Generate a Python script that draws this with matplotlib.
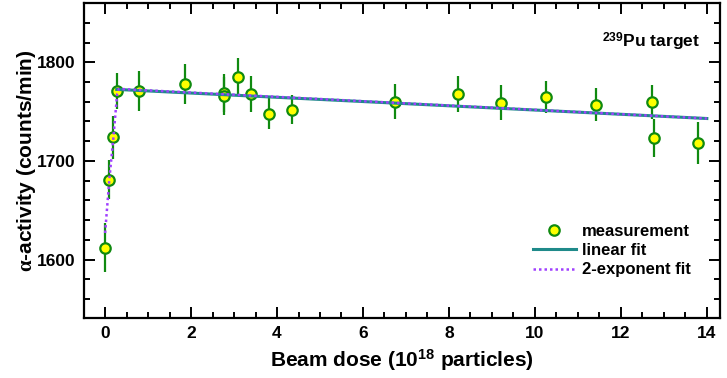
import matplotlib
matplotlib.use("Agg")
import matplotlib.pyplot as plt
from matplotlib.ticker import MultipleLocator

plt.rcParams['font.family'] = ['Liberation Sans', 'DejaVu Sans']
plt.rcParams['font.weight'] = 'bold'
plt.rcParams['axes.labelweight'] = 'bold'
plt.rcParams['mathtext.fontset'] = 'custom'
plt.rcParams['mathtext.rm'] = 'Liberation Sans'
plt.rcParams['mathtext.bf'] = 'Liberation Sans:bold'
plt.rcParams['mathtext.it'] = 'Liberation Serif'

# alpha-activity measurements vs beam dose
dose = [0.0, 0.10, 0.19, 0.28, 0.80, 1.86, 2.77, 2.77, 3.09, 3.40, 3.82, 4.35,
        6.75, 8.20, 9.22, 10.26, 11.43, 12.72, 12.76, 13.79]
activity = [1612, 1681, 1724, 1771, 1771, 1778, 1769, 1766, 1785, 1768, 1748, 1752,
            1760, 1768, 1759, 1765, 1757, 1760, 1723, 1718]
activity_err = [25, 20, 22, 18, 20, 20, 19, 19, 19, 18, 16, 15,
                18, 18, 18, 16, 17, 17, 19, 21]

# fitted curves
lin_x = [0.27, 14.0]
lin_y = [1772.5, 1743]
exp_x = [0.0, 0.10, 0.19, 0.28, 0.32, 14.0]
exp_y = [1627, 1682, 1722, 1768, 1773, 1743]

fig = plt.figure(figsize=(7.27, 3.78), dpi=100)
ax = fig.add_axes([0.115, 0.159, 0.875, 0.833])

ax.errorbar(dose, activity, yerr=activity_err, fmt='none', ecolor='#108a10',
            elinewidth=1.6, capsize=0, zorder=2)
ax.plot(dose, activity, 'o', ms=7.5, mfc='#ffff00', mec='#108a10', mew=1.6,
        ls='none', zorder=3, label='measurement')
ax.plot(lin_x, lin_y, color='#1f8a8a', lw=2.2, zorder=4, label='linear fit')
ax.plot(exp_x, exp_y, color='#a040ff', lw=1.8, ls=(0, (1, 1.2)), zorder=5,
        label='2-exponent fit')

ax.set_xlim(-0.5, 14.3)
ax.set_ylim(1541, 1860)
ax.xaxis.set_major_locator(MultipleLocator(2))
ax.xaxis.set_minor_locator(MultipleLocator(0.5))
ax.yaxis.set_major_locator(MultipleLocator(100))
ax.yaxis.set_minor_locator(MultipleLocator(20))
ax.tick_params(which='both', direction='in', top=True, right=True, width=1.4,
               labelsize=12.5, pad=6)
ax.tick_params(which='major', length=8)
ax.tick_params(which='minor', length=4)
for s in ax.spines.values():
    s.set_linewidth(1.6)

ax.set_xlabel('Beam dose (10$^{\\mathbf{18}}$ particles)', fontsize=15, labelpad=5)
ax.set_ylabel('$\\alpha$-activity (counts/min)', fontsize=15, labelpad=-1)

ax.text(0.969, 0.876, '$^{\\mathbf{239}}$Pu target', transform=ax.transAxes,
        ha='right', va='center', fontsize=12.5)

ax.legend(loc='upper left', bbox_to_anchor=(0.706, 0.298), frameon=False,
          fontsize=12, handlelength=2.6, handletextpad=0.35, borderpad=0,
          borderaxespad=0, labelspacing=0.25)

fig.savefig('out.png', dpi=100)
